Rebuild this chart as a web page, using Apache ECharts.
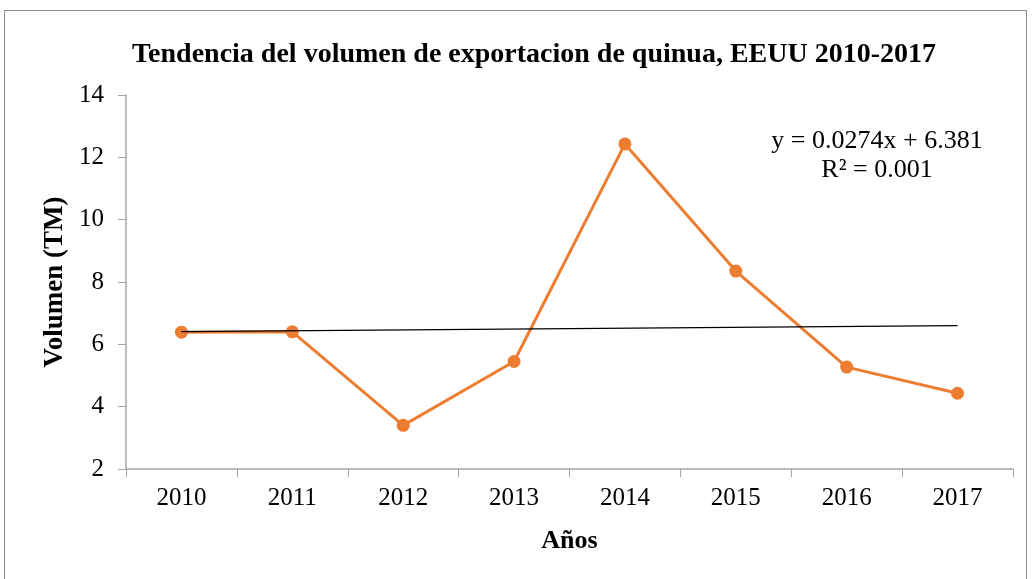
<!DOCTYPE html>
<html>
<head>
<meta charset="utf-8">
<script src="https://cdn.jsdelivr.net/npm/echarts@6/dist/echarts.min.js"></script>
<style>
  html, body { margin: 0; padding: 0; background: #fff; }
  #frame { position: absolute; left: 4px; top: 10px; width: 1023px; height: 600px; border: 1px solid #8c8c8c; box-sizing: border-box; }
  #chart { position: absolute; left: 0; top: 0; width: 1032px; height: 579px; }
</style>
</head>
<body>
<div id="frame"></div>
<div id="chart"></div>
<script>
// datos
const years = ['2010', '2011', '2012', '2013', '2014', '2015', '2016', '2017'];
const volumen = [6.39, 6.40, 3.40, 5.45, 12.43, 8.35, 5.27, 4.43];
// linea de tendencia (extremos)
const trend = [6.41, null, null, null, null, null, null, 6.60];
const yTicks = [2, 4, 6, 8, 10, 12, 14];

const font = '"Liberation Serif", "Times New Roman", serif';

const chart = echarts.init(document.getElementById('chart'));
chart.setOption({
    animation: false,
    title: {
        text: 'Tendencia del volumen de exportacion de quinua, EEUU 2010-2017',
        left: 529, top: 36, textAlign: 'center',
        textStyle: { fontFamily: font, fontSize: 28, fontWeight: 'bold', color: '#000' }
    },
    grid: { left: 126, right: 19, top: 95, bottom: 110 },
    xAxis: {
        type: 'category',
        data: years,
        boundaryGap: true,
        name: 'Años',
        nameLocation: 'middle',
        nameGap: 59,
        nameTextStyle: { fontFamily: font, fontSize: 26, fontWeight: 'bold', color: '#000' },
        axisLine: { lineStyle: { color: '#a6a6a6', width: 1.5 } },
        axisTick: { show: true, length: 8, lineStyle: { color: '#a6a6a6' } },
        axisLabel: { fontFamily: font, fontSize: 25, color: '#000', margin: 17 }
    },
    yAxis: {
        type: 'value',
        min: yTicks[0], max: yTicks[yTicks.length - 1], interval: 2,
        name: 'Volumen (TM)',
        nameLocation: 'middle',
        nameGap: 56,
        nameTextStyle: { fontFamily: font, fontSize: 27, fontWeight: 'bold', color: '#000' },
        axisLine: { show: true, lineStyle: { color: '#a6a6a6', width: 1.5 } },
        axisTick: { show: true, length: 8, lineStyle: { color: '#a6a6a6' } },
        splitLine: { show: false },
        axisLabel: { fontFamily: font, fontSize: 25, color: '#000', margin: 22 }
    },
    series: [
        {
            type: 'line',
            data: volumen,
            symbol: 'circle',
            symbolSize: 13,
            lineStyle: { color: '#ED7D31', width: 3 },
            itemStyle: { color: '#ED7D31' },
            z: 2
        },
        {
            type: 'line',
            data: trend,
            connectNulls: true,
            symbol: 'none',
            lineStyle: { color: '#000', width: 1.3 },
            z: 3
        }
    ],
    graphic: [
        {
            type: 'text',
            x: 877, y: 127,
            style: {
                text: 'y = 0.0274x + 6.381\nR² = 0.001',
                textAlign: 'center',
                font: '26px ' + font, lineHeight: 29, fill: '#000'
            }
        }
    ]
});
</script>
</body>
</html>
